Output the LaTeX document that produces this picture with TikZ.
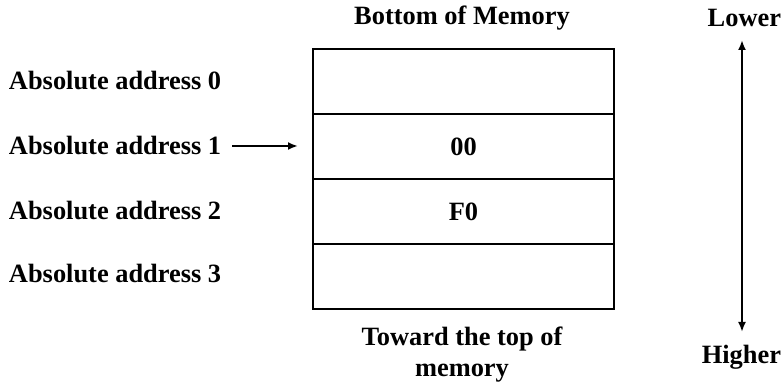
\documentclass[tikz,border=0pt]{standalone}
\usepackage{fontspec}
\setmainfont{Liberation Serif}
\usetikzlibrary{positioning,arrows.meta}

\begin{document}
\begin{tikzpicture} [x=0.5pt, y=-0.5pt,
    >={Latex[length=5pt,width=4pt]},
    line width=1pt,
    every node/.style={font=\bfseries\fontsize{13.2}{15.5}\selectfont, inner sep=0pt},
    cell/.style={draw, minimum width=150.5pt, minimum height=32.5pt, anchor=north west}]
  \useasboundingbox (0,0) rectangle (783,384);
  % memory cells
  \node[cell] (c0) at (312,48)  {};
  \node[cell] (c1) at (312,113) {00};
  \node[cell] (c2) at (312,178) {F0};
  \node[cell] (c3) at (312,243) {};

  \node (bot) at (462,18)  {Bottom of Memory};
  \node[align=center] (top) at (462,355) {Toward the top of\\memory};

  % addresses
  \node[anchor=west] (a0) at (8,81)  {Absolute address 0};
  \node[anchor=west] (a1) at (8,146) {Absolute address 1};
  \node[anchor=west] (a2) at (8,211) {Absolute address 2};
  \node[anchor=west] (a3) at (8,274) {Absolute address 3};

  \coordinate (p1) at (298,146);
  \draw[->] ([xshift=5pt]a1.east) -- (p1);

  % direction
  \node[anchor=east] (lo) at (782,18)  {Lower};
  \node[anchor=east] (hi) at (782,357) {Higher};
  \draw[<->] (742,40) -- (742,332);
\end{tikzpicture}
\end{document}
